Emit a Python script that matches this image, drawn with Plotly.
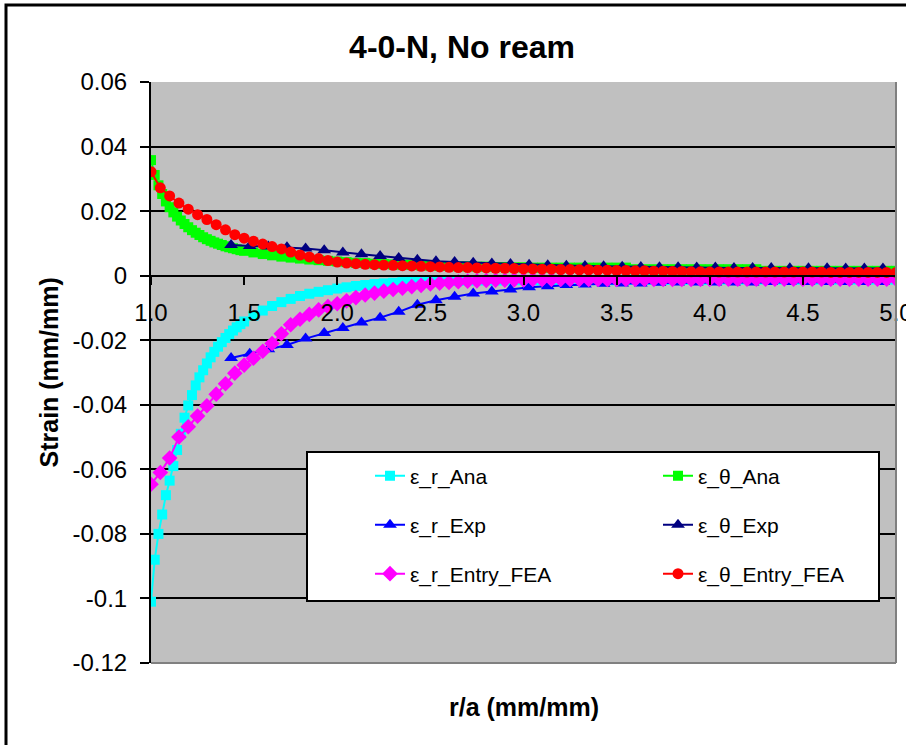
import plotly.graph_objects as go

# ---------------- data ----------------
r_ana = [1.00, 1.02, 1.04, 1.06, 1.08, 1.10, 1.12, 1.14, 1.16, 1.18, 1.20, 1.22, 1.24, 1.26,
         1.28, 1.30, 1.32, 1.34, 1.36, 1.38, 1.40, 1.42, 1.44, 1.46, 1.48, 1.50,
         1.55, 1.60, 1.65, 1.70, 1.75, 1.80, 1.85, 1.90, 1.95, 2.00,
         2.05, 2.10, 2.15, 2.20, 2.25, 2.30, 2.35, 2.40, 2.45, 2.50,
         2.55, 2.60, 2.65, 2.70, 2.75, 2.80, 2.85, 2.90, 2.95, 3.00,
         3.05, 3.10, 3.15, 3.20, 3.25, 3.30, 3.35, 3.40, 3.45, 3.50,
         3.55, 3.60, 3.65, 3.70, 3.75, 3.80, 3.85, 3.90, 3.95, 4.00,
         4.05, 4.10, 4.15, 4.20, 4.25, 4.30, 4.35, 4.40, 4.45, 4.50,
         4.55, 4.60, 4.65, 4.70, 4.75, 4.80, 4.85, 4.90, 4.95, 5.00]

eps_r_ana = [-0.1010, -0.0880, -0.0800, -0.0740, -0.0680, -0.0635, -0.0590, -0.0540, -0.0490, -0.0440,
             -0.0402, -0.0370, -0.0340, -0.0315, -0.0293, -0.0272, -0.0253, -0.0236, -0.0220, -0.0206,
             -0.0193, -0.0181, -0.0170, -0.0160, -0.0150, -0.0142,
             -0.0124, -0.0108, -0.0094, -0.0082, -0.0072, -0.0063, -0.0056, -0.0050, -0.0045, -0.0040,
             -0.0036, -0.0032, -0.0029, -0.0026, -0.0024, -0.0022, -0.0020, -0.0019, -0.0018, -0.0017,
             -0.0016, -0.0016, -0.0016, -0.0015, -0.0015, -0.0015, -0.0015, -0.0015, -0.0014, -0.0014,
             -0.0014, -0.0014, -0.0014, -0.0014, -0.0014, -0.0014, -0.0014, -0.0014, -0.0014, -0.0014,
             -0.0013, -0.0013, -0.0013, -0.0013, -0.0013, -0.0013, -0.0013, -0.0013, -0.0013, -0.0013,
             -0.0012, -0.0012, -0.0012, -0.0012, -0.0012, -0.0012, -0.0012, -0.0012, -0.0012, -0.0012,
             -0.0012, -0.0012, -0.0012, -0.0012, -0.0012, -0.0012, -0.0012, -0.0012, -0.0012, -0.0012]

eps_t_ana = [0.0358, 0.0312, 0.0280, 0.0253, 0.0230, 0.0212, 0.0196, 0.0183, 0.0171, 0.0160,
             0.0150, 0.0141, 0.0133, 0.0126, 0.0119, 0.0113, 0.0108, 0.0103, 0.0099, 0.0095,
             0.0091, 0.0088, 0.0085, 0.0082, 0.0079, 0.0077,
             0.0072, 0.0067, 0.0063, 0.0059, 0.0056, 0.0053, 0.0050, 0.0048, 0.0046, 0.0044,
             0.0042, 0.0040, 0.0039, 0.0037, 0.0036, 0.0035, 0.0034, 0.0033, 0.0032, 0.0031,
             0.0030, 0.0030, 0.0029, 0.0029, 0.0028, 0.0028, 0.0027, 0.0027, 0.0026, 0.0026,
             0.0025, 0.0025, 0.0025, 0.0025, 0.0025, 0.0025, 0.0025, 0.0025, 0.0025, 0.0025,
             0.0025, 0.0020, 0.0020, 0.0020, 0.0020, 0.0020, 0.0020, 0.0020, 0.0020, 0.0020,
             0.0020, 0.0020, 0.0020, 0.0020, 0.0020, 0.0015, 0.0015, 0.0015, 0.0015, 0.0015,
             0.0015, 0.0015, 0.0015, 0.0015, 0.0015, 0.0015, 0.0015, 0.0015, 0.0015, 0.0015]

r_exp = [1.43, 1.53, 1.63, 1.73, 1.83, 1.93, 2.03, 2.13, 2.23, 2.33,
         2.43, 2.53, 2.63, 2.73, 2.83, 2.93, 3.03, 3.13, 3.23, 3.33,
         3.43, 3.53, 3.63, 3.73, 3.83, 3.93, 4.03, 4.13, 4.23, 4.33,
         4.43, 4.53, 4.63, 4.73, 4.83, 4.93]

eps_r_exp = [-0.0255, -0.0242, -0.0228, -0.0215, -0.0195, -0.0178, -0.0162, -0.0145, -0.0130, -0.0112,
             -0.0090, -0.0076, -0.0065, -0.0055, -0.0049, -0.0043, -0.0036, -0.0033, -0.0029, -0.0027,
             -0.0025, -0.0024, -0.0024, -0.0022, -0.0021, -0.0021, -0.0021, -0.0021, -0.0021, -0.0020,
             -0.0020, -0.0020, -0.0020, -0.0020, -0.0020, -0.0020]

eps_t_exp = [0.0095, 0.0092, 0.0090, 0.0088, 0.0084, 0.0079, 0.0072, 0.0066, 0.0061, 0.0055,
             0.0049, 0.0045, 0.0042, 0.0040, 0.0038, 0.0036, 0.0034, 0.0032, 0.0031, 0.0030,
             0.0029, 0.0028, 0.0027, 0.0026, 0.0026, 0.0025, 0.0025, 0.0024, 0.0024, 0.0024,
             0.0023, 0.0023, 0.0023, 0.0022, 0.0022, 0.0022]

r_fea = [1.00, 1.05, 1.10, 1.15, 1.20, 1.25, 1.30, 1.35, 1.40, 1.45,
         1.50, 1.55, 1.60, 1.65, 1.70, 1.75, 1.80, 1.85, 1.90, 1.95,
         2.00, 2.05, 2.10, 2.15, 2.20, 2.25, 2.30, 2.35, 2.40, 2.45,
         2.50, 2.55, 2.60, 2.65, 2.70, 2.75, 2.80, 2.85, 2.90, 2.95,
         3.00, 3.05, 3.10, 3.15, 3.20, 3.25, 3.30, 3.35, 3.40, 3.45,
         3.50, 3.55, 3.60, 3.65, 3.70, 3.75, 3.80, 3.85, 3.90, 3.95,
         4.00, 4.05, 4.10, 4.15, 4.20, 4.25, 4.30, 4.35, 4.40, 4.45,
         4.50, 4.55, 4.60, 4.65, 4.70, 4.75, 4.80, 4.85, 4.90, 4.95, 5.00]

eps_r_fea = [-0.0646, -0.0610, -0.0565, -0.0500, -0.0468, -0.0435, -0.0403, -0.0367, -0.0335, -0.0302,
             -0.0277, -0.0256, -0.0234, -0.0210, -0.0180, -0.0152, -0.0135, -0.0120, -0.0106, -0.0096,
             -0.0087, -0.0078, -0.0068, -0.0060, -0.0054, -0.0048, -0.0043, -0.0039, -0.0034, -0.0030,
             -0.0026, -0.0023, -0.0021, -0.0019, -0.0017, -0.0016, -0.0015, -0.0014, -0.0014, -0.0013,
             -0.0013, -0.0012, -0.0012, -0.0012, -0.0012, -0.0012, -0.0012, -0.0012, -0.0012, -0.0012,
             -0.0012, -0.0012, -0.0012, -0.0012, -0.0012, -0.0012, -0.0012, -0.0012, -0.0012, -0.0012,
             -0.0011, -0.0011, -0.0011, -0.0011, -0.0011, -0.0011, -0.0011, -0.0011, -0.0011, -0.0011,
             -0.0011, -0.0011, -0.0011, -0.0011, -0.0011, -0.0011, -0.0011, -0.0011, -0.0011, -0.0011, -0.0011]

eps_t_fea = [0.0322, 0.0272, 0.0247, 0.0225, 0.0206, 0.0189, 0.0174, 0.0158, 0.0142, 0.0127,
             0.0116, 0.0107, 0.0098, 0.0090, 0.0083, 0.0073, 0.0064, 0.0058, 0.0053, 0.0047,
             0.0042, 0.0039, 0.0037, 0.0035, 0.0034, 0.0033, 0.0032, 0.0031, 0.0030, 0.0029,
             0.0028, 0.0027, 0.0026, 0.0025, 0.0025, 0.0024, 0.0024, 0.0023, 0.0023, 0.0022,
             0.0021, 0.0021, 0.0020, 0.0020, 0.0019, 0.0019, 0.0018, 0.0018, 0.0017, 0.0017,
             0.0016, 0.0016, 0.0015, 0.0015, 0.0014, 0.0014, 0.0013, 0.0013, 0.0012, 0.0012,
             0.0011, 0.0011, 0.0011, 0.0011, 0.0011, 0.0011, 0.0011, 0.0011, 0.0011, 0.0011,
             0.0011, 0.0011, 0.0011, 0.0010, 0.0010, 0.0010, 0.0010, 0.0010, 0.0010, 0.0010, 0.0010]

series_names = ["ε_r_Ana", "ε_θ_Ana", "ε_r_Exp", "ε_θ_Exp", "ε_r_Entry_FEA", "ε_θ_Entry_FEA"]
y_tickvals = [0.06, 0.04, 0.02, 0, -0.02, -0.04, -0.06, -0.08, -0.1, -0.12]
y_ticktext = ["0.06", "0.04", "0.02", "0", "-0.02", "-0.04", "-0.06", "-0.08", "-0.1", "-0.12"]
x_tickvals = [1.0, 1.5, 2.0, 2.5, 3.0, 3.5, 4.0, 4.5, 5.0]
x_ticktext = ["1.0", "1.5", "2.0", "2.5", "3.0", "3.5", "4.0", "4.5", "5.0"]

# ---------------- figure ----------------
FONT = "Arial, 'Liberation Sans', sans-serif"
W, H = 906, 745
ML, MR, MT, MB = 151, 10, 82, 82
PW, PH = W - ML - MR, H - MT - MB


def px_x(p):
    return (p - ML) / PW


def px_y(p):
    return (H - MB - p) / PH


colors = ["#00FFFF", "#00FF00", "#0000FF", "#000080", "#FF00FF", "#FF0000"]
symbols = ["square", "square", "triangle-up", "triangle-up", "diamond", "circle"]
msizes = [10, 10, 12, 12, 12, 11]
xs_all = [r_ana, r_ana, r_exp, r_exp, r_fea, r_fea]
ys_all = [eps_r_ana, eps_t_ana, eps_r_exp, eps_t_exp, eps_r_fea, eps_t_fea]
legend_ids = ["legend", "legend2", "legend3", "legend4", "legend5", "legend6"]

fig = go.Figure()
for i, name in enumerate(series_names):
    fig.add_trace(go.Scatter(
        x=xs_all[i], y=ys_all[i], name=name, mode="lines+markers",
        line=dict(color=colors[i], width=2),
        marker=dict(color=colors[i], symbol=symbols[i], size=msizes[i], line=dict(width=0)),
        legend=legend_ids[i],
    ))

zero_frac = (0 - (-0.12)) / (0.06 - (-0.12))

legend_common = dict(
    orientation="v", xanchor="left", yanchor="middle",
    bgcolor="rgba(0,0,0,0)", borderwidth=0,
    font=dict(family=FONT, size=21, color="black"),
)
col_x = [px_x(370), px_x(658)]
row_y = [px_y(476), px_y(525), px_y(574)]
legend_layout = {}
for i, lid in enumerate(legend_ids):
    legend_layout[lid] = dict(legend_common, x=col_x[i % 2], y=row_y[i // 2])

fig.update_layout(
    width=W, height=H,
    margin=dict(l=ML, r=MR, t=MT, b=MB, pad=0, autoexpand=False),
    paper_bgcolor="white",
    plot_bgcolor="#C0C0C0",
    font=dict(family=FONT, size=24, color="black"),
    title=dict(text="<b>4-0-N, No ream</b>", font=dict(family=FONT, size=32, color="black"),
               x=462 / W, xanchor="center", xref="container",
               y=1 - 47 / H, yanchor="middle", yref="container"),
    showlegend=True,
    xaxis=dict(
        range=[1, 5], tickvals=x_tickvals, ticktext=x_ticktext,
        showgrid=False, zeroline=False,
        showline=True, linecolor="black", linewidth=2,
        ticks="outside", ticklen=8, tickwidth=2, tickcolor="black",
        anchor="free", position=zero_frac,
        tickfont=dict(family=FONT, size=24, color="black"),
        ticklabelstandoff=8, ticklabeloverflow="allow", automargin=False,
    ),
    yaxis=dict(
        range=[-0.12, 0.06], tickvals=y_tickvals, ticktext=y_ticktext,
        showgrid=True, gridcolor="black", gridwidth=2,
        zeroline=True, zerolinecolor="black", zerolinewidth=2,
        showline=True, linecolor="black", linewidth=2,
        ticks="outside", ticklen=9, tickwidth=2, tickcolor="black",
        tickfont=dict(family=FONT, size=24, color="black"),
        ticklabelstandoff=8, automargin=False,
    ),
    shapes=[
        dict(type="line", xref="paper", yref="paper", x0=1, x1=1, y0=0, y1=1,
             line=dict(color="#808080", width=2), layer="above"),
        dict(type="line", xref="paper", yref="paper", x0=0, x1=1, y0=0, y1=0,
             line=dict(color="#808080", width=2), layer="above"),
        dict(type="rect", xref="paper", yref="paper",
             x0=px_x(307), x1=px_x(879), y0=px_y(601), y1=px_y(452),
             fillcolor="white", line=dict(color="black", width=2), layer="above"),
        dict(type="rect", xref="paper", yref="paper",
             x0=px_x(6), x1=px_x(930), y0=px_y(770), y1=px_y(5),
             line=dict(color="black", width=3), layer="above"),
    ],
    annotations=[
        dict(text="<b>Strain (mm/mm)</b>", textangle=-90, xref="paper", yref="paper",
             x=px_x(48), y=0.5, xanchor="center", yanchor="middle", showarrow=False,
             font=dict(family=FONT, size=25, color="black")),
        dict(text="<b>r/a (mm/mm)</b>", xref="paper", yref="paper",
             x=0.5, y=px_y(707), xanchor="center", yanchor="middle", showarrow=False,
             font=dict(family=FONT, size=25, color="black")),
    ],
    **legend_layout,
)

fig.write_html("out.html")
